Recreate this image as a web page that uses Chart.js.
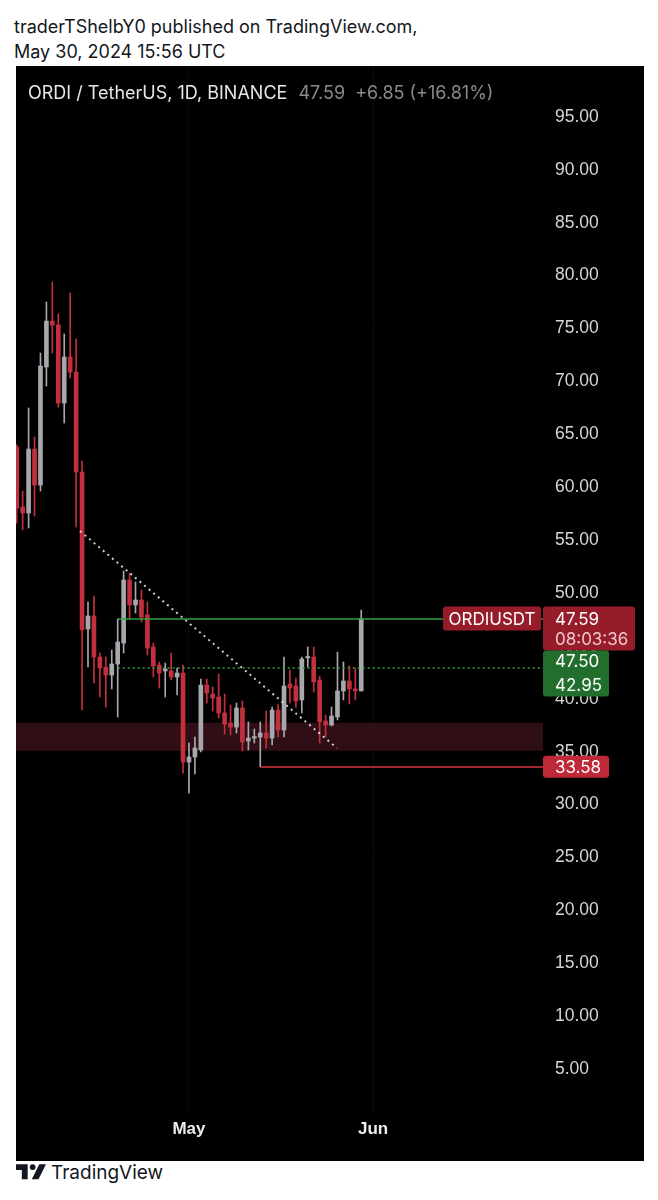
<!DOCTYPE html>
<html>
<head>
<meta charset="utf-8">
<script src="https://cdn.jsdelivr.net/npm/chart.js@4.4.1/dist/chart.umd.min.js"></script>
<style>
  body { margin: 0; background: #fff; width: 658px; height: 1200px; position: relative; overflow: hidden;
         font-family: Inter, "Noto Sans", "Liberation Sans", sans-serif; }
  .hdr { position: absolute; left: 14px; color: #131722; font-size: 18px; line-height: 22px; white-space: nowrap; }
  #panel { position: absolute; left: 16px; top: 66px; width: 628px; height: 1095px; background: #000; }
  #c { position: absolute; left: 0; top: 0; }
  #title { position: absolute; left: 12px; top: 16px; font-size: 18px; line-height: 22px; color: #e6e6e6; white-space: nowrap; }
  #title span { color: #8a8a8a; margin-left: 6px; }
  #foot { position: absolute; left: 16px; top: 1161px; height: 22px; display: flex; align-items: center; }
  #foot span { font-size: 19px; color: #131722; margin-left: 5px; }
</style>
</head>
<body>
<div class="hdr" style="top:16px">traderTShelbY0 published on TradingView.com,</div>
<div class="hdr" style="top:41px">May 30, 2024 15:56 UTC</div>

<div id="panel">
  <canvas id="c" width="628" height="1095"></canvas>
  <div id="title">ORDI / TetherUS, 1D, BINANCE <span>47.59&nbsp; +6.85 (+16.81%)</span></div>
</div>

<div id="foot">
  <svg width="30" height="17" viewBox="0 0 36 20">
    <path d="M0 0 H14 V18 H7 V7 H0 Z" fill="#131722"/>
    <circle cx="20" cy="3.5" r="3.5" fill="#131722"/>
    <path d="M28 0 H36 L27 18 H19 Z" fill="#131722"/>
  </svg>
  <span>TradingView</span>
</div>

<script>
// daily candles, Apr 2 .. May 30 2024 (ORDI/USDT, Binance)
const opens = [63.8, 58.13, 57.56, 63.61, 60.21, 71.37, 75.71, 75.34, 67.96, 72.31,
  70.89, 61.44, 46.6, 47.83, 43.95, 42.99, 42.25, 43.29, 45.27, 51.23,
  48.87, 49.34, 47.92, 44.9, 43.19, 42.63, 42.63, 42.06, 42.44, 34.02,
  34.5, 35.16, 41.3, 40.45, 40.17, 38.66, 37.71, 37.33, 39.13, 36.01,
  36.29, 36.39, 36.77, 36.29, 38.94, 37.05, 41.4, 41.21, 39.89, 43.86,
  43.95, 41.78, 37.9, 37.52, 38.28, 40.74, 41.68, 40.93, 40.74];
const highs = [64.0, 59.64, 67.49, 64.75, 72.69, 77.51, 79.4, 76.38, 74.49, 78.36,
  74.01, 62.48, 49.15, 49.72, 44.33, 43.95, 44.61, 47.54, 52.08, 51.89,
  51.04, 50.28, 49.15, 45.27, 43.48, 43.38, 44.33, 42.91, 43.19, 35.82,
  36.39, 41.87, 41.87, 41.11, 42.34, 40.45, 39.41, 39.6, 39.79, 37.81,
  37.14, 37.81, 38.85, 39.22, 39.51, 43.95, 42.72, 41.97, 43.95, 44.9,
  44.9, 42.15, 38.47, 39.22, 44.42, 43.48, 43.1, 42.91, 48.39];
const lows = [56.6, 55.96, 56.15, 57.28, 59.64, 69.57, 72.69, 67.58, 66.07, 70.33,
  56.24, 38.94, 43.01, 41.49, 40.17, 39.22, 40.93, 38.28, 44.33, 47.54,
  48.11, 47.26, 44.14, 42.06, 41.02, 40.17, 41.78, 40.36, 32.98, 31.09,
  32.89, 34.97, 39.6, 38.85, 38.18, 36.67, 36.58, 36.77, 35.06, 35.16,
  35.82, 33.58, 35.35, 35.63, 36.39, 36.39, 39.6, 39.22, 38.66, 43.01,
  40.64, 35.82, 36.39, 37.43, 38.0, 39.89, 39.51, 39.89, 40.74];
const closes = [58.04, 57.56, 63.61, 60.21, 71.46, 75.71, 75.34, 67.96, 72.31, 70.89,
  61.44, 46.5, 47.83, 43.95, 42.91, 42.25, 43.29, 45.37, 51.23, 48.87,
  49.34, 47.73, 44.8, 43.1, 42.44, 42.82, 42.06, 42.44, 34.02, 34.5,
  35.35, 41.3, 40.55, 40.07, 38.66, 37.62, 37.33, 39.13, 35.92, 36.29,
  36.39, 36.77, 36.29, 38.94, 37.05, 41.21, 41.02, 39.79, 43.76, 43.95,
  41.59, 37.81, 37.52, 38.37, 40.74, 41.68, 40.93, 40.74, 47.59];
// x = days since Apr 1 (first candle is Apr 2)
const days = opens.map((_, i) => i + 1);

const yTicks = [5, 10, 15, 20, 25, 30, 35, 40, 45, 50, 55, 60, 65, 70, 75, 80, 85, 90, 95];
const xTickDays = [30, 61];
const xTickLabels = ['May', 'Jun'];

// drawings
const trendX = [11.65, 54.9];
const trendY = [55.86, 35.35];
const greenLevels = [47.50, 42.95];
const levelStart = 18;
const supportLevel = 33.58;
const supportStart = 42;
const zone = [35.09, 37.74];
const lastPrice = 47.59;
const countdown = '08:03:36';
const symbol = 'ORDIUSDT';

const RED = '#c3303d';
const GRAY = '#a7a8ad';
const GREEN = '#33a244';
const colors = opens.map((o, i) => closes[i] >= o ? GRAY : RED);

const X_MIN = 0.88, X_MAX = 89.6;
const FONT = 'Inter, "Noto Sans", sans-serif';

const zonePlugin = {
  id: 'zone',
  beforeDatasetsDraw(chart) {
    const { ctx, chartArea, scales: { y } } = chart;
    const top = y.getPixelForValue(zone[1]);
    const bot = y.getPixelForValue(zone[0]);
    ctx.save();
    ctx.fillStyle = '#300e15';
    ctx.fillRect(chartArea.left, top, chartArea.right - chartArea.left, bot - top);
    ctx.restore();
  }
};

// horizontal level lines
const levelPlugin = {
  id: 'levels',
  afterDatasetsDraw(chart) {
    const { ctx, chartArea, scales: { x, y } } = chart;
    const draw = (v, x0, color, dash) => {
      const py = Math.round(y.getPixelForValue(v));
      ctx.strokeStyle = color;
      ctx.lineWidth = 1.5;
      ctx.setLineDash(dash);
      ctx.beginPath();
      ctx.moveTo(x.getPixelForValue(x0), py);
      ctx.lineTo(chartArea.right, py);
      ctx.stroke();
    };
    ctx.save();
    draw(greenLevels[0], levelStart, GREEN, []);
    draw(greenLevels[1], levelStart, GREEN, [2, 3]);
    draw(supportLevel, supportStart, '#d8363f', []);
    ctx.restore();
  }
};

function box(ctx, x, y, w, h, color) {
  ctx.fillStyle = color;
  ctx.beginPath();
  ctx.roundRect(x, y, w, h, 3);
  ctx.fill();
}

const labelPlugin = {
  id: 'labels',
  afterDraw(chart) {
    const { ctx, chartArea, scales: { y } } = chart;
    const r = chartArea.right;
    const tx = r + 12;
    ctx.save();
    ctx.font = '17px ' + FONT;
    ctx.textBaseline = 'middle';
    const py = y.getPixelForValue(lastPrice);

    // symbol tag
    box(ctx, r - 100, py - 12, 98, 24, '#961c2a');
    ctx.fillStyle = '#ffffff';
    ctx.textAlign = 'center';
    ctx.fillText(symbol, r - 51, py + 1);

    // last price + countdown
    ctx.textAlign = 'left';
    box(ctx, r, py - 12, 92, 44, '#961c2a');
    ctx.fillStyle = '#ffffff';
    ctx.fillText(lastPrice.toFixed(2), tx, py + 1);
    ctx.fillStyle = '#f0c6ca';
    ctx.fillText(countdown, tx, py + 21);

    // green level tags
    box(ctx, r, py + 32, 66, 46, '#226e2d');
    ctx.fillStyle = '#ffffff';
    ctx.fillText(greenLevels[0].toFixed(2), tx, py + 43);
    ctx.fillText(greenLevels[1].toFixed(2), tx, py + 67);

    // support tag
    const sy = y.getPixelForValue(supportLevel);
    box(ctx, r, sy - 11, 66, 22, '#be2837');
    ctx.fillStyle = '#ffffff';
    ctx.fillText(supportLevel.toFixed(2), tx, sy + 1);
    ctx.restore();
  }
};

new Chart(document.getElementById('c'), {
  type: 'bar',
  data: {
    datasets: [
      {
        data: days.map((d, i) => ({ x: d, y: [lows[i], highs[i]] })),
        backgroundColor: colors, barThickness: 1, grouped: false, order: 2
      },
      {
        data: days.map((d, i) => ({ x: d, y: [opens[i], closes[i]] })),
        backgroundColor: colors, barThickness: 4, minBarLength: 1.5, grouped: false, order: 1
      },
      {
        type: 'line',
        data: [{ x: trendX[0], y: trendY[0] }, { x: trendX[1], y: trendY[1] }],
        borderColor: 'rgba(225,225,225,0.9)', borderWidth: 2, borderDash: [2, 4],
        pointRadius: 0, order: 0
      }
    ]
  },
  options: {
    responsive: false,
    animation: false,
    devicePixelRatio: 1,
    layout: { padding: 0 },
    plugins: { legend: { display: false }, tooltip: { enabled: false } },
    scales: {
      x: {
        type: 'linear', min: X_MIN, max: X_MAX, offset: false,
        afterBuildTicks: s => { s.ticks = xTickDays.map(v => ({ value: v })); },
        afterFit: s => { s.height = 49; s.paddingLeft = 0; s.paddingRight = 0; },
        ticks: {
          callback: (v, i) => xTickLabels[i],
          color: '#ececec', font: { size: 17, weight: '600' },
          padding: 7, maxRotation: 0, autoSkip: false
        },
        grid: { color: 'rgba(255,255,255,0.04)', drawTicks: false, offset: false },
        border: { display: false }
      },
      y: {
        position: 'right', min: 0.94, max: 99.82,
        afterBuildTicks: s => { s.ticks = yTicks.map(v => ({ value: v })); },
        afterFit: s => { s.width = 101; s.paddingTop = 0; s.paddingBottom = 0; },
        ticks: {
          callback: v => v.toFixed(2),
          color: '#d6d6d6', font: { size: 17.5 }, padding: 12
        },
        grid: { display: false, drawTicks: false },
        border: { display: false }
      }
    }
  },
  plugins: [zonePlugin, levelPlugin, labelPlugin]
});
</script>
</body>
</html>
